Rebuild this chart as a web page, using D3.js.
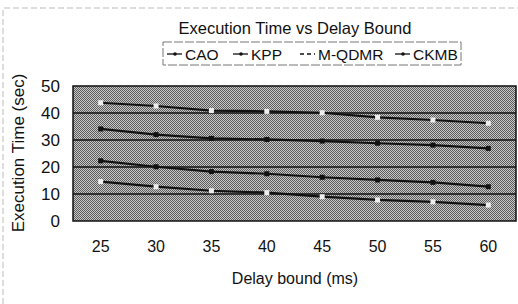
<!DOCTYPE html>
<html>
<head>
<meta charset="utf-8">
<script src="https://cdn.jsdelivr.net/npm/d3@7"></script>
<style>
  body { margin: 0; background: #fff; }
  text { font-family: Arial, "Liberation Sans", sans-serif; fill: #111; }
</style>
</head>
<body>
<svg id="chart" width="518" height="304"></svg>
<script>
// data
var delays = [25, 30, 35, 40, 45, 50, 55, 60];
var seriesNames = ['CAO', 'KPP', 'M-QDMR', 'CKMB'];
var cao   = [43.8, 42.6, 40.9, 40.6, 40.1, 38.4, 37.4, 36.2];
var kpp   = [34.1, 32.0, 30.6, 30.2, 29.6, 28.8, 28.1, 26.9];
var mqdmr = [22.3, 20.1, 18.3, 17.5, 16.2, 15.2, 14.3, 12.7];
var ckmb  = [14.6, 12.7, 11.2, 10.5, 9.0, 7.8, 7.1, 5.9];
var yTicks = [0, 10, 20, 30, 40, 50];

var allSeries = [cao, kpp, mqdmr, ckmb];

var svg = d3.select('svg#chart');

var plot = { left: 73, right: 516, top: 86, bottom: 221 };

var x = d3.scaleBand()
	.domain(delays)
	.range([plot.left, plot.right]);

var y = d3.scaleLinear()
	.domain([0, 50])
	.range([plot.bottom, plot.top]);

// halftone-ish grey for the plot area, like the scanned original
var pat = svg.append('defs').append('pattern')
	.attr('id', 'dither')
	.attr('width', 2)
	.attr('height', 2)
	.attr('patternUnits', 'userSpaceOnUse');
pat.append('rect').attr('width', 2).attr('height', 2).style('fill', '#c8c8c8');
pat.append('rect').attr('width', 1).attr('height', 1).style('fill', '#5c5c5c');
pat.append('rect').attr('x', 1).attr('y', 1).attr('width', 1).attr('height', 1).style('fill', '#5c5c5c');

// faint outer frame
svg.append('path')
	.attr('d', 'M3,304 L3,8 L518,8')
	.style('fill', 'none')
	.style('stroke', '#bbb')
	.style('stroke-dasharray', '6,3');

svg.append('rect')
	.attr('x', plot.left)
	.attr('y', plot.top)
	.attr('width', plot.right - plot.left)
	.attr('height', plot.bottom - plot.top)
	.style('fill', 'url(#dither)')
	.style('stroke', '#111')
	.style('stroke-width', 1.5);

// horizontal gridlines
svg.selectAll('line.grid')
	.data(yTicks.filter(function (d) { return d > 0 && d < 50; }))
	.enter()
	.append('line')
	.attr('class', 'grid')
	.attr('x1', plot.left)
	.attr('x2', plot.right)
	.attr('y1', function (d) { return y(d); })
	.attr('y2', function (d) { return y(d); })
	.style('stroke', '#111')
	.style('stroke-width', 1.6);

// y axis labels
svg.selectAll('text.ytick')
	.data(yTicks)
	.enter()
	.append('text')
	.attr('class', 'ytick')
	.attr('x', 60)
	.attr('y', function (d) { return y(d) + 6; })
	.attr('text-anchor', 'end')
	.style('font-size', '17px')
	.text(function (d) { return d; });

// x axis labels
svg.selectAll('text.xtick')
	.data(delays)
	.enter()
	.append('text')
	.attr('class', 'xtick')
	.attr('x', function (d) { return x(d) + x.bandwidth() / 2; })
	.attr('y', 252)
	.attr('text-anchor', 'middle')
	.style('font-size', '16px')
	.text(function (d) { return d; });

// lines
var line = d3.line()
	.x(function (d, i) { return x(delays[i]) + x.bandwidth() / 2; })
	.y(function (d) { return y(d); });

svg.selectAll('path.series')
	.data(allSeries)
	.enter()
	.append('path')
	.attr('class', 'series')
	.attr('d', line)
	.style('fill', 'none')
	.style('stroke', '#111')
	.style('stroke-width', 2.2);

// markers: light squares on top and bottom series, dark ones on the others
var markerFill = ['#eee', '#111', '#111', '#eee'];
allSeries.forEach(function (s, k) {
	svg.selectAll('rect.m' + k)
		.data(s)
		.enter()
		.append('rect')
		.attr('class', 'm' + k)
		.attr('x', function (d, i) { return x(delays[i]) + x.bandwidth() / 2 - 2.5; })
		.attr('y', function (d) { return y(d) - 2.5; })
		.attr('width', 5)
		.attr('height', 5)
		.style('fill', markerFill[k]);
});

// title
svg.append('text')
	.attr('x', 295)
	.attr('y', 34)
	.attr('text-anchor', 'middle')
	.style('font-size', '16.5px')
	.text('Execution Time vs Delay Bound');

// legend
svg.append('rect')
	.attr('x', 163)
	.attr('y', 42)
	.attr('width', 298)
	.attr('height', 23)
	.style('fill', '#fff')
	.style('stroke', '#777')
	.style('stroke-dasharray', '9,2');

var legendX = [167, 233, 300, 395];
var legendDash = [null, null, '4,3', null];
seriesNames.forEach(function (name, k) {
	var g = svg.append('g').attr('transform', 'translate(' + legendX[k] + ',54)');
	g.append('line')
		.attr('x1', 0).attr('x2', 15)
		.attr('y1', 0).attr('y2', 0)
		.style('stroke', '#111')
		.style('stroke-width', 1.3)
		.style('stroke-dasharray', legendDash[k]);
	if (k !== 2) {
		g.append('circle').attr('cx', 8).attr('cy', 0).attr('r', 1.8).style('fill', '#111');
	}
	g.append('text')
		.attr('x', 18)
		.attr('y', 6)
		.style('font-size', '15.5px')
		.text(name);
});

// axis titles
svg.append('text')
	.attr('x', 295)
	.attr('y', 284)
	.attr('text-anchor', 'middle')
	.style('font-size', '16px')
	.text('Delay bound (ms)');

svg.append('text')
	.attr('transform', 'translate(24,153) rotate(-90)')
	.attr('text-anchor', 'middle')
	.style('font-size', '17px')
	.text('Execution Time (sec)');
</script>
</body>
</html>
